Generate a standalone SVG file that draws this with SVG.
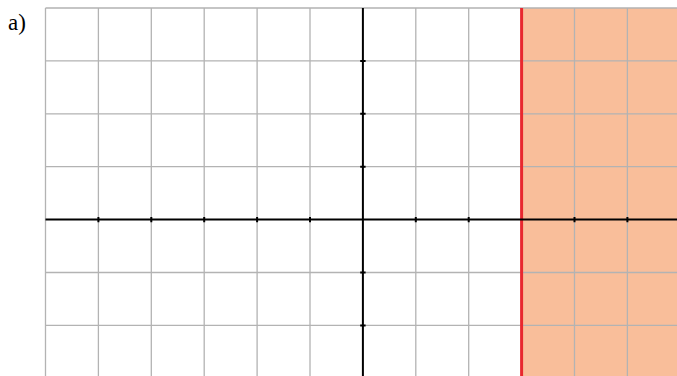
<svg xmlns="http://www.w3.org/2000/svg" width="677" height="376" viewBox="0 0 677 376">
<style>
.grid{stroke:#b3b3b3;stroke-width:1.3;fill:none}
.axis{stroke:#000;stroke-width:2;fill:none}
.tick{stroke:#000;stroke-width:2;fill:none}
</style>
<rect width="677" height="376" fill="#fff"/>
<g id="region">
<rect x="521.6" y="8" width="156" height="368" fill="#f9be9a"/>
</g>
<g id="grid" class="grid">
<path d="M45.5 8V376M98.4 8V376M151.3 8V376M204.2 8V376M257.1 8V376M310 8V376M415.8 8V376M468.7 8V376M574.5 8V376M627.4 8V376"/>
<path d="M45.5 8H677M45.5 60.9H677M45.5 113.8H677M45.5 166.7H677M45.5 272.5H677M45.5 325.4H677"/>
</g>
<g id="boundary">
<line x1="521.6" y1="8" x2="521.6" y2="376" stroke="#e8282f" stroke-width="3"/>
</g>
<g id="axes">
<line class="axis" x1="45.5" y1="219.6" x2="677" y2="219.6"/>
<line class="axis" x1="362.9" y1="8" x2="362.9" y2="376"/>
<path class="tick" d="M98.4 216.9V222.3M151.3 216.9V222.3M204.2 216.9V222.3M257.1 216.9V222.3M310 216.9V222.3M415.8 216.9V222.3M468.7 216.9V222.3M574.5 216.9V222.3M627.4 216.9V222.3"/>
<path class="tick" d="M360.2 60.9H365.6M360.2 113.8H365.6M360.2 166.7H365.6M360.2 272.5H365.6M360.2 325.4H365.6"/>
</g>
<g id="label">
<text x="8" y="30" font-family="'Liberation Serif', serif" font-size="23" fill="#000">a)</text>
</g>
</svg>
